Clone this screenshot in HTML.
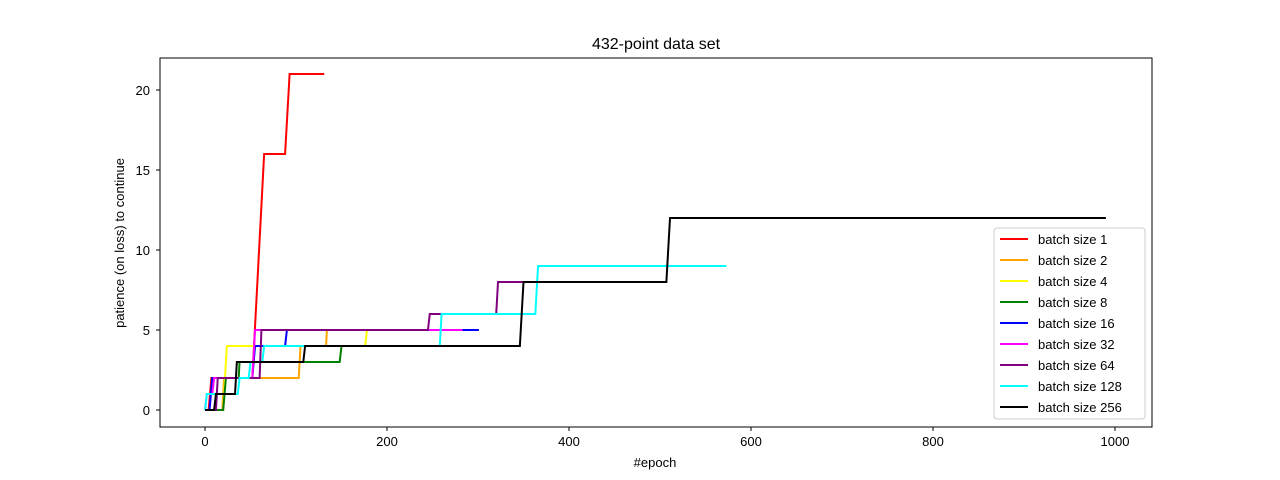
<!DOCTYPE html>
<html><head><meta charset="utf-8"><style>body{margin:0;background:#fff}svg{display:block;font-family:"Liberation Sans","DejaVu Sans",sans-serif}</style></head>
<body>
<svg id="chart" width="1280" height="480">
<rect x="0" y="0" width="1280" height="480" fill="#fff"/>
<text x="656" y="49" font-size="16" text-anchor="middle">432-point data set</text>
<g id="plot"></g>
<rect x="160" y="58" width="992" height="369" fill="none" stroke="#000" stroke-width="1"/>
<g id="axes"></g>
<text x="655" y="467" font-size="13" text-anchor="middle">#epoch</text>
<text transform="translate(124,243) rotate(-90)" font-size="13" text-anchor="middle">patience (on loss) to continue</text>
<g id="legend"></g>
</svg>
<script>
const seriesNames = ["batch size 1","batch size 2","batch size 4","batch size 8","batch size 16","batch size 32","batch size 64","batch size 128","batch size 256"];
const seriesColors = ["#ff0000","#ffa500","#ffff00","#008000","#0000ff","#ff00ff","#800080","#00ffff","#000000"];
const s1 = [[0,0],[4,0],[7,2],[52,2],[65,16],[88,16],[93,21],[131,21]];
const s2 = [[0,0],[19,0],[21,2],[103,2],[105,4],[133,4],[134,5],[135,5]];
const s4 = [[0,0],[20,0],[24,4],[176,4],[178,5],[179,5]];
const s8 = [[0,0],[20,0],[23,2],[37,2],[38,3],[148,3],[150,4],[160,4]];
const s16 = [[0,0],[5,0],[8,2],[52,2],[55,4],[88,4],[90,5],[301,5]];
const s32 = [[0,0],[2,1],[8,1],[10,2],[52,2],[55,5],[283,5]];
const s64 = [[0,0],[12,0],[14,2],[60,2],[62,5],[245,5],[247,6],[320,6],[322,8],[388,8]];
const s128 = [[0,0],[2,1],[36,1],[38,2],[48,2],[50,3],[63,3],[65,4],[258,4],[260,6],[363,6],[366,9],[573,9]];
const s256 = [[0,0],[10,0],[12,1],[33,1],[35,3],[108,3],[110,4],[346,4],[350,8],[507,8],[511,12],[990,12]];
const seriesData = [s1,s2,s4,s8,s16,s32,s64,s128,s256];
const xTicks = [0,200,400,600,800,1000];
const yTicks = [0,5,10,15,20];
const NS="http://www.w3.org/2000/svg";
const X = e => 205 + e*0.91;
const Y = v => 410 - v*16;
const plot=document.getElementById('plot');
seriesData.forEach((d,i)=>{
  const p=document.createElementNS(NS,'polyline');
  p.setAttribute('points', d.map(q=>X(q[0])+','+Y(q[1])).join(' '));
  p.setAttribute('fill','none');p.setAttribute('stroke',seriesColors[i]);p.setAttribute('stroke-width','2');
  
  
  plot.appendChild(p);
});
const axes=document.getElementById('axes');
xTicks.forEach(t=>{
  const l=document.createElementNS(NS,'line');
  l.setAttribute('x1',X(t));l.setAttribute('x2',X(t));l.setAttribute('y1',427);l.setAttribute('y2',431);l.setAttribute('stroke','#000');
  
  
  axes.appendChild(l);
  const tx=document.createElementNS(NS,'text');
  tx.setAttribute('x',X(t));tx.setAttribute('y',446);tx.setAttribute('font-size','13');tx.setAttribute('text-anchor','middle');tx.textContent=t;
  
  
  axes.appendChild(tx);
});
yTicks.forEach(t=>{
  const l=document.createElementNS(NS,'line');
  l.setAttribute('x1',156);l.setAttribute('x2',160);l.setAttribute('y1',Y(t));l.setAttribute('y2',Y(t));l.setAttribute('stroke','#000');
  
  
  axes.appendChild(l);
  const tx=document.createElementNS(NS,'text');
  tx.setAttribute('x',150);tx.setAttribute('y',Y(t)+5);tx.setAttribute('font-size','13');tx.setAttribute('text-anchor','end');tx.textContent=t;
  
  
  axes.appendChild(tx);
});
const lg=document.getElementById('legend');
const box=document.createElementNS(NS,'rect');
box.setAttribute('x',994);box.setAttribute('y',228);box.setAttribute('width',151);box.setAttribute('height',191);box.setAttribute('rx',3);
box.setAttribute('fill','#fff');box.setAttribute('fill-opacity','0.85');box.setAttribute('stroke','#ccc');


lg.appendChild(box);
seriesNames.forEach((n,i)=>{
  const y=239+i*21;
  const l=document.createElementNS(NS,'line');
  l.setAttribute('x1',1000);l.setAttribute('x2',1028);l.setAttribute('y1',y);l.setAttribute('y2',y);l.setAttribute('stroke',seriesColors[i]);l.setAttribute('stroke-width','2');
  
  
  lg.appendChild(l);
  const t=document.createElementNS(NS,'text');
  t.setAttribute('x',1038);t.setAttribute('y',y+5);t.setAttribute('font-size','13');t.textContent=n;
  
  
  lg.appendChild(t);
});
</script>
</body></html>
